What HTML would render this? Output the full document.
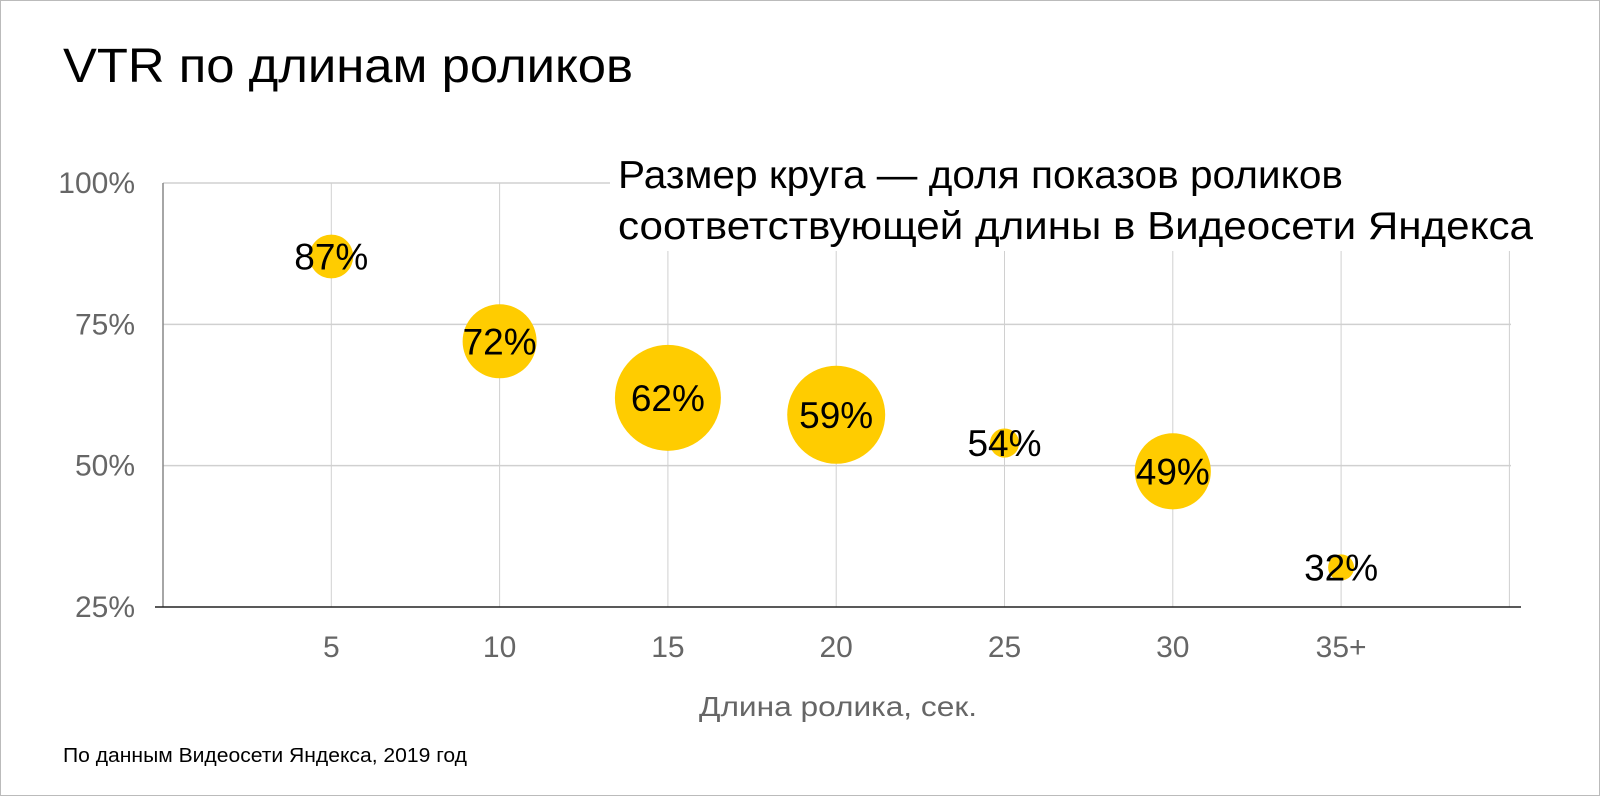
<!DOCTYPE html>
<html><head><meta charset="utf-8"><style>
html,body{margin:0;padding:0;background:#fff}
#wrap{position:relative;width:1598px;height:794px;border:1px solid #bbb;background:#fff;overflow:hidden}
svg{position:absolute;left:-1px;top:-1px}
text{font-family:"Liberation Sans",Arial,sans-serif}
</style></head><body>
<div id="wrap">
<svg id="chart" width="1600" height="796">
<text x="63" y="82" font-size="48" fill="#000" textLength="570" lengthAdjust="spacingAndGlyphs">VTR по длинам роликов</text>
<g id="grid"></g>
<g id="bubbles"></g>
<rect x="610" y="150" width="930" height="101" fill="#fff"/>
<text x="618" y="188" font-size="39" fill="#000" textLength="725" lengthAdjust="spacingAndGlyphs">Размер круга — доля показов роликов</text>
<text x="618" y="239" font-size="39" fill="#000" textLength="915" lengthAdjust="spacingAndGlyphs">соответствующей длины в Видеосети Яндекса</text>
<text x="838" y="716" font-size="28" fill="#666" text-anchor="middle" textLength="278" lengthAdjust="spacingAndGlyphs">Длина ролика, сек.</text>
<text x="63" y="762" font-size="20" fill="#000" textLength="404" lengthAdjust="spacingAndGlyphs">По данным Видеосети Яндекса, 2019 год</text>
</svg>
</div>
<script>
const categories = ["5","10","15","20","25","30","35+"];
const vtrValues = [87,72,62,59,54,49,32];
const shareValues = [5.4,15.4,31.6,27.0,2.4,16.3,1.9];
const yTicks = [25,50,75,100];
const yTickLabels = ["25%","50%","75%","100%"];

const NS="http://www.w3.org/2000/svg";
const plotLeft=163, plotRight=1511, plotTop=183, plotBottom=607, step=168.3;
function xPos(i){return plotLeft+step*(i+1);}
function yPos(v){return plotBottom-(v-25)/75*(plotBottom-plotTop);}
function rad(s){return Math.sqrt(s*88.86);}
function mk(tag,attrs,parent){const e=document.createElementNS(NS,tag);for(const k in attrs)e.setAttribute(k,attrs[k]);parent.appendChild(e);return e;}
const grid=document.getElementById('grid');
const bub=document.getElementById('bubbles');
yTicks.forEach((t,i)=>{
  if(t>25){const l=mk('line',{x1:plotLeft,x2:plotRight,y1:yPos(t),y2:yPos(t),stroke:'#d0d0d0','stroke-width':1.5},grid);
  
  }
  const tx=mk('text',{x:135,y:yPos(t)+10,'font-size':30,fill:'#666','text-anchor':'end'},grid);
  tx.textContent=yTickLabels[i];
  
  
});
for(let i=0;i<=categories.length;i++){
  const l=mk('line',{x1:xPos(i),x2:xPos(i),y1:plotTop,y2:plotBottom,stroke:'#d0d0d0','stroke-width':1},grid);
  
  
}
categories.forEach((c,i)=>{
  const tx=mk('text',{x:xPos(i),y:657,'font-size':30,fill:'#666','text-anchor':'middle'},grid);
  tx.textContent=c;
  
  
});
const ya=mk('line',{x1:plotLeft,x2:plotLeft,y1:plotTop,y2:plotBottom,stroke:'#888','stroke-width':1.5},grid);


const xa=mk('line',{x1:plotLeft-8,x2:1521,y1:plotBottom,y2:plotBottom,stroke:'#222','stroke-width':1.5},grid);


vtrValues.forEach((v,i)=>{
  const c=mk('circle',{cx:xPos(i),cy:yPos(v),r:rad(shareValues[i]),fill:'#ffcc00'},bub);
  
  
  const t=mk('text',{x:xPos(i),y:yPos(v)+13,'font-size':37,fill:'#000','text-anchor':'middle'},bub);
  t.textContent=v+'%';
  
  
});
</script>
</body></html>
